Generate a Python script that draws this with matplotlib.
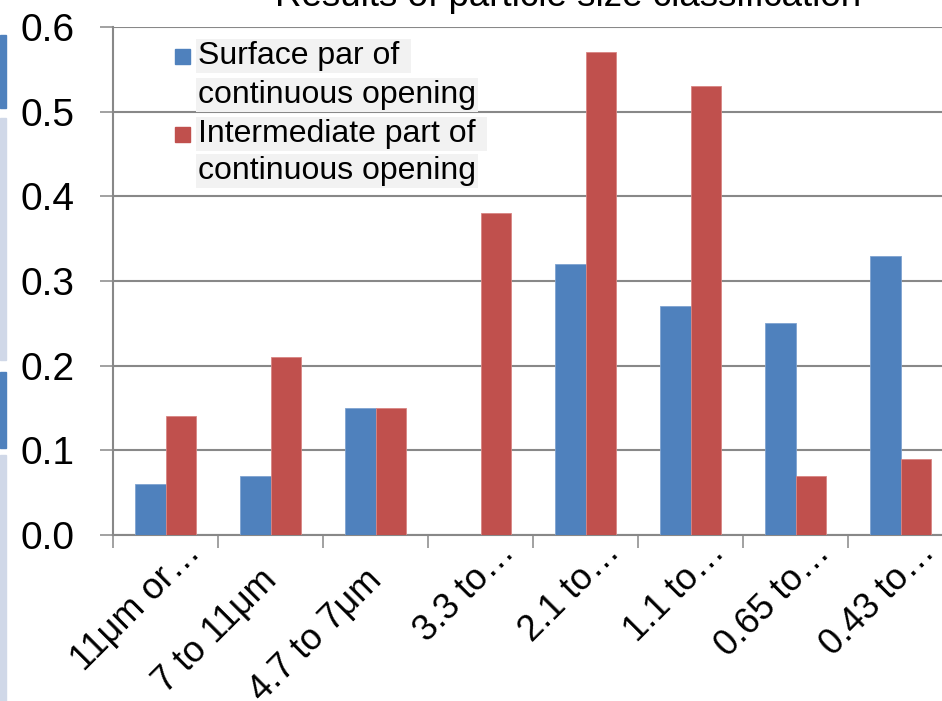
import numpy as np
import matplotlib.pyplot as plt
from matplotlib.patches import Rectangle
import matplotlib.transforms as mtransforms

plt.rcParams['font.family'] = ['Liberation Sans', 'DejaVu Sans']

# full labels carry trailing blanks, as the source chart does
categories = ['11μm or…', '7 to 11μm    ', '4.7 to 7μm    ', '3.3 to…', '2.1 to…',
              '1.1 to…', '0.65 to…', '0.43 to…']
surface = [0.06, 0.07, 0.15, 0.0, 0.32, 0.27, 0.25, 0.33]
intermediate = [0.14, 0.21, 0.15, 0.38, 0.57, 0.53, 0.07, 0.09]
series_names = [['Surface par of ', 'continuous opening'],
                ['Intermediate part of ', 'continuous opening']]
title = 'Results of particle size classification'

blue = '#4F81BD'
red = '#C0504D'
grid = '#888888'

fig = plt.figure(figsize=(9.42, 7.01), dpi=100)
ax = fig.add_axes([0.12, 0.2368, 0.8917, 0.7247])

x = np.arange(len(categories))
w = 0.29
ax.bar(x - w / 2, surface, w, color=blue, edgecolor='#7fa3d0', linewidth=0.6, zorder=3)
ax.bar(x + w / 2, intermediate, w, color=red, edgecolor='#d98583', linewidth=0.6, zorder=3)

ax.set_xlim(-0.5, len(categories) - 0.5)
ax.set_ylim(0, 0.6)
ax.set_yticks(np.arange(0, 0.61, 0.1))
ax.set_yticklabels(['%.1f' % v for v in np.arange(0, 0.61, 0.1)], fontsize=28)
ax.yaxis.grid(True, color=grid, linewidth=1.5, zorder=0)
ax.tick_params(axis='y', length=9.5, width=1.1, color=grid, pad=18)

# tick marks between categories, labels at centres
ax.set_xticks(np.arange(-0.5, len(categories)))
ax.set_xticklabels([])
ax.set_xticks(x, minor=True)
ax.set_xticklabels(categories, minor=True, rotation=45, fontsize=26,
                   ha='right', va='baseline', rotation_mode='anchor')
ax.tick_params(axis='x', which='major', length=9.5, width=1.1, color=grid)
ax.tick_params(axis='x', which='minor', length=0, pad=0)
offset = mtransforms.ScaledTranslation(0.36, -0.19, fig.dpi_scale_trans)
for lab in ax.xaxis.get_minorticklabels():
    lab.set_transform(lab.get_transform() + offset)

for s in ['top', 'right']:
    ax.spines[s].set_visible(False)
for s in ['left', 'bottom']:
    ax.spines[s].set_color(grid)
    ax.spines[s].set_linewidth(1.5)

# legend: square at the first line, each text line on a light grey band
px_w, px_h = 840.0, 508.0
line_y = [[56, 95], [134, 171]]
for lines, ys, c in zip(series_names, line_y, [blue, red]):
    ax.add_patch(Rectangle((62 / px_w, (535 - ys[0] - 8) / px_h), 15 / px_w, 15 / px_h,
                           transform=ax.transAxes, color=c, clip_on=False))
    for txt, yy in zip(lines, ys):
        ax.text(85 / px_w, (535 - yy) / px_h, txt, transform=ax.transAxes,
                fontsize=23, ha='left', va='center',
                bbox=dict(facecolor='#F2F2F2', edgecolor='none', pad=1.5))

fig.text(0.603, 0.9915, title, fontsize=26.5, ha='center', va='baseline')

# slide edge decorations on the left
for y0, y1, c in [(35, 108, blue), (118, 360, '#D0D8E8'),
                  (372, 448, blue), (455, 701, '#D0D8E8')]:
    fig.patches.append(Rectangle((0, 1 - y1 / 701), 6 / 942, (y1 - y0) / 701,
                                 transform=fig.transFigure, color=c))

fig.savefig('out.png', dpi=100)
